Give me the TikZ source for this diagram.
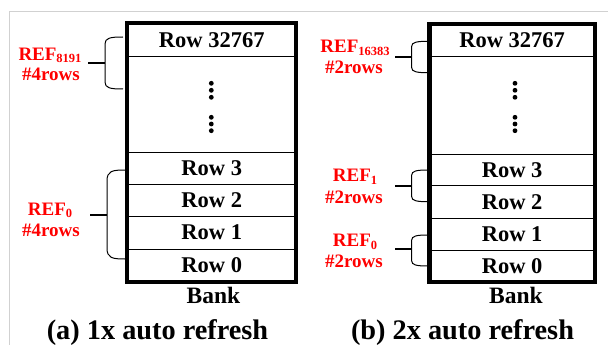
\documentclass[tikz,border=0pt]{standalone}
\usepackage{fontspec}
\setmainfont{Liberation Serif}
\newcommand\drawbrace[5]{\draw[bracel] (#1,#3) .. controls (#2+5,#3) and (#2,#3+1) .. (#2,#3+#5) -- (#2,#4-#5) .. controls (#2,#4-1) and (#2+5,#4) .. (#1,#4);}
\newcommand\subn[1]{{\fontsize{12.5}{12}\selectfont\raisebox{-2.5pt}{#1}}}
\begin{document}
\begin{tikzpicture}[x=1pt,y=-1pt,
  cell/.style={draw, line width=1pt, inner sep=0pt, font=\fontsize{22.5}{24}\selectfont\bfseries},
  bankbox/.style={draw, line width=4.5pt},
  lbl/.style={text=red, inner sep=0pt, anchor=base, font=\fontsize{19}{21}\selectfont\bfseries},
  bracel/.style={line width=1pt},
  tickline/.style={line width=1.8pt},
  dotmark/.style={fill, circle, inner sep=0pt, minimum size=4.8pt},
  captext/.style={font=\fontsize{28.3}{30}\selectfont\bfseries, inner sep=0pt, anchor=base},
  banklbl/.style={font=\fontsize{23.5}{24}\selectfont\bfseries, inner sep=0pt, anchor=base}]
\useasboundingbox (0,0) rectangle (608,345);
\draw[black!18, line width=1pt] (608,12) -- (9,12) -- (9,345);

% ---------- left bank ----------
\node[cell, minimum width=168pt, minimum height=33.3pt] (aT) at (211.7,40.35) {Row 32767};
\node[cell, minimum width=168pt, minimum height=95pt] (aD) at (211.7,104.5) {};
\node[cell, minimum width=168pt, minimum height=32pt] (a3) at (211.7,168) {Row 3};
\node[cell, minimum width=168pt, minimum height=32pt] (a2) at (211.7,200) {Row 2};
\node[cell, minimum width=168pt, minimum height=33pt] (a1) at (211.7,232.5) {Row 1};
\node[cell, minimum width=168pt, minimum height=32.5pt] (a0) at (211.7,265.25) {Row 0};
\draw[bankbox] (aT.north west) rectangle (a0.south east);
\foreach \y [count=\i] in {83.3,90.3,97.3,117.3,124,130.7}
  \node[dotmark] (ad\i) at (211.3,\y) {};
\node[banklbl] (abank) at (213.5,303) {Bank};
\node[captext] (acap) at (157.5,339) {(a) 1x auto refresh};

\drawbrace{123}{105}{37}{89}{7}
\drawbrace{125}{107}{170}{259}{11}
\coordinate (ab1) at (105,63);
\coordinate (ab0) at (107,215);
\node[lbl] (aL1) at (50,60) {REF\subn{8191}};
\node[lbl] (aL1b) at (51,81) {\#4rows};
\node[lbl] (aL0) at (50,215) {REF\subn{0}};
\node[lbl] (aL0b) at (51,236) {\#4rows};
\coordinate (at1) at (88,63);
\coordinate (at0) at (90,215);
\draw[tickline] (at1) -- (ab1);
\draw[tickline] (at0) -- (ab0);

% ---------- right bank ----------
\node[cell, minimum width=164.3pt, minimum height=32.7pt] (bT) at (512.15,40.65) {Row 32767};
\node[cell, minimum width=164.3pt, minimum height=97pt] (bD) at (512.15,105.5) {};
\node[cell, minimum width=164.3pt, minimum height=31.7pt] (b3) at (512.15,169.85) {Row 3};
\node[cell, minimum width=164.3pt, minimum height=32.6pt] (b2) at (512.15,202) {Row 2};
\node[cell, minimum width=164.3pt, minimum height=31.7pt] (b1) at (512.15,234.15) {Row 1};
\node[cell, minimum width=164.3pt, minimum height=31.5pt] (b0) at (512.15,265.75) {Row 0};
\draw[bankbox] (bT.north west) rectangle (b0.south east);
\foreach \y [count=\i] in {83.3,90.3,97.3,117.3,124,130.7}
  \node[dotmark] (bd\i) at (515,\y) {};
\node[banklbl] (bbank) at (516,303) {Bank};
\node[captext] (bcap) at (462.5,339) {(b) 2x auto refresh};

\drawbrace{427.7}{411.7}{41.3}{72.7}{5}
\drawbrace{427.7}{411.7}{170}{201.7}{5}
\drawbrace{427.7}{411.7}{235}{266}{5}
\coordinate (bb2) at (411.7,56.7);
\coordinate (bb1) at (411.7,185.7);
\coordinate (bb0) at (411.7,249.3);
\node[lbl] (bL2) at (355,53) {REF\subn{16383}};
\node[lbl] (bL2b) at (354,74) {\#2rows};
\node[lbl] (bL1) at (355,181.7) {REF\subn{1}};
\node[lbl] (bL1b) at (354,203.3) {\#2rows};
\node[lbl] (bL0) at (355,246.7) {REF\subn{0}};
\node[lbl] (bL0b) at (354,267.7) {\#2rows};
\coordinate (bt2) at (395,56.7);
\coordinate (bt1) at (395,185.7);
\coordinate (bt0) at (395,249.3);
\draw[tickline] (bt2) -- (bb2);
\draw[tickline] (bt1) -- (bb1);
\draw[tickline] (bt0) -- (bb0);
\end{tikzpicture}
\end{document}
